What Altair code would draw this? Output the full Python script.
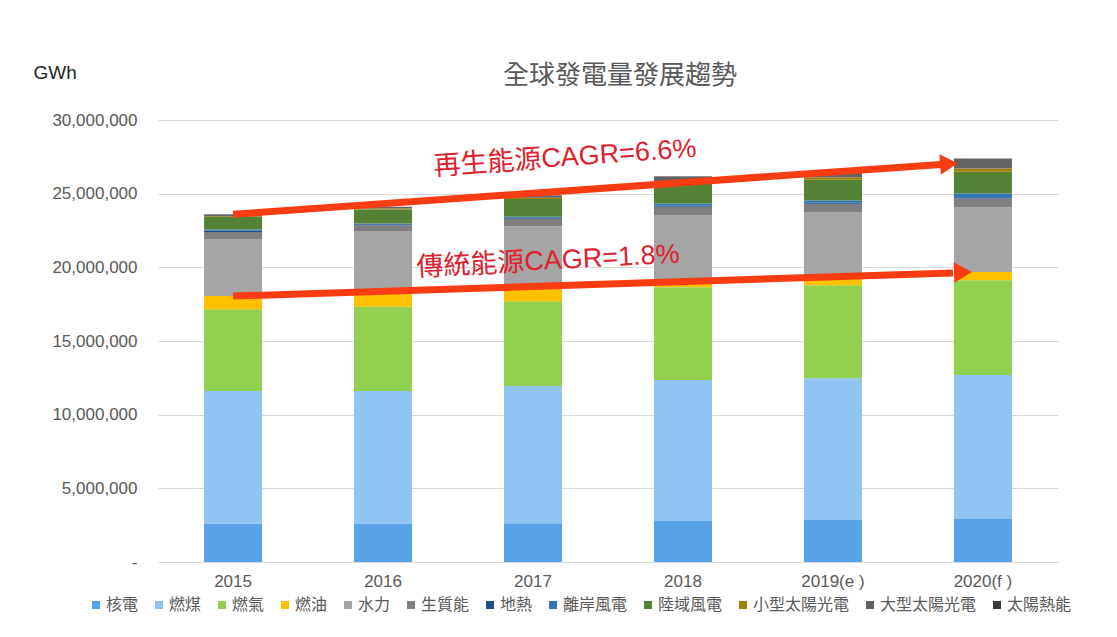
import altair as alt
import pandas as pd

years = ["2015", "2016", "2017", "2018", "2019(e )", "2020(f )"]
sources = ["核電", "燃煤", "燃氣", "燃油", "水力", "生質能", "地熱",
           "離岸風電", "陸域風電", "小型太陽光電", "大型太陽光電", "太陽熱能"]
colors = ["#58A2E8", "#8FC4F3", "#92D050", "#FFC000", "#A5A5A5", "#7F7F7F",
          "#1F4E8C", "#2E75B6", "#548235", "#A08000", "#636363", "#3A3A3A"]

nuclear = [2600000, 2620000, 2630000, 2780000, 2850000, 2920000]
coal = [9000000, 8980000, 9310000, 9570000, 9630000, 9770000]
gas = [5550000, 5730000, 5760000, 6300000, 6310000, 6440000]
oil = [900000, 920000, 950000, 550000, 550000, 560000]
hydro = [3880000, 4210000, 4140000, 4350000, 4400000, 4370000]
biomass = [470000, 400000, 500000, 560000, 570000, 610000]
geothermal = [80000, 70000, 80000, 80000, 80000, 90000]
offshore_wind = [80000, 50000, 70000, 140000, 150000, 250000]
onshore_wind = [850000, 950000, 1200000, 1400000, 1400000, 1470000]
small_pv = [50000, 60000, 80000, 120000, 150000, 230000]
large_pv = [120000, 120000, 170000, 320000, 350000, 660000]
solar_thermal = [20000, 10000, 10000, 20000, 20000, 20000]

series = [nuclear, coal, gas, oil, hydro, biomass, geothermal,
          offshore_wind, onshore_wind, small_pv, large_pv, solar_thermal]

# annotation arrows (trend lines drawn from 2015 to 2020)
arrow_labels = ["再生能源CAGR=6.6%", "傳統能源CAGR=1.8%"]
arrow_start = [23600000, 18050000]
arrow_end = [27190000, 19720000]
label_value = [27270000, 20350000]

rows = []
for si, (name, vals) in enumerate(zip(sources, series)):
    for yr, v in zip(years, vals):
        rows.append({"year": yr, "source": name, "value": v, "order": si})
df = pd.DataFrame(rows)

GRAY = "#595959"
NUM_FONT = "Liberation Sans"
CJK_FONT = "Noto Sans CJK TC"
NBSP = "\u00a0"

x_enc = alt.X(
    "year:N", sort=years,
    scale=alt.Scale(paddingInner=0.613, paddingOuter=0.307),
    axis=alt.Axis(title=None, labelAngle=0, ticks=False, domainColor="#D9D9D9",
                  labelColor=GRAY, labelFontSize=17, labelPadding=11,
                  labelFont=NUM_FONT, grid=False),
)

bars = alt.Chart(df).mark_bar().encode(
    x=x_enc,
    y=alt.Y(
        "value:Q", stack="zero",
        scale=alt.Scale(domain=[0, 30000000]),
        axis=alt.Axis(
            values=[0, 5000000, 10000000, 15000000, 20000000, 25000000, 30000000],
            labelExpr="datum.value == 0 ? '-" + NBSP * 4 + "' : format(datum.value, ',')",
            ticks=False, domain=False, gridColor="#D9D9D9", labelColor=GRAY,
            labelFontSize=17, labelFont=NUM_FONT, labelPadding=21,
            title="GWh", titleAngle=0, titleX=-125, titleY=-48, titleAlign="left",
            titleBaseline="middle", titleFontSize=19, titleColor="#262626",
            titleFont=NUM_FONT, titleFontWeight="normal",
        ),
    ),
    color=alt.Color(
        "source:N",
        scale=alt.Scale(domain=sources, range=colors),
        legend=alt.Legend(
            title=None, orient="none", legendX=-70, legendY=477,
            direction="horizontal", columns=12, columnPadding=12,
            gridAlign="none",
            symbolType="square", symbolSize=64, symbolStrokeWidth=0,
            symbolOffset=0, labelOffset=2,
            labelFont=CJK_FONT, labelFontSize=16, labelColor=GRAY,
        ),
    ),
    order=alt.Order("order:Q", sort="ascending"),
)

layers = [bars]
arrow_red = "#F93C12"
text_red = "#E0202C"
x_off = [-42, -30]
y_off = [3.0, 1.5]
head_x = [-34, -20]
head_y = [2.4, 0.8]
angles = [356, 358]
text_dx = [32, 15]
text_angles = [356, 357]

for i in range(2):
    adf = pd.DataFrame({
        "start_year": [years[0]], "end_year": [years[-1]], "text_year": [years[2]],
        "start": [arrow_start[i]], "end": [arrow_end[i]],
        "label_value": [label_value[i]], "label": [arrow_labels[i]],
    })
    rule = alt.Chart(adf).mark_rule(
        color=arrow_red, strokeWidth=7, x2Offset=x_off[i], y2Offset=y_off[i]
    ).encode(
        x=alt.X("start_year:N", sort=years),
        x2=alt.X2("end_year:N"),
        y=alt.Y("start:Q"),
        y2=alt.Y2("end:Q"),
    )
    head = alt.Chart(adf).mark_point(
        shape="triangle-right", filled=True, size=420, angle=angles[i],
        color=arrow_red, opacity=1, xOffset=head_x[i], yOffset=head_y[i]
    ).encode(
        x=alt.X("end_year:N", sort=years),
        y=alt.Y("end:Q"),
    )
    txt = alt.Chart(adf).mark_text(
        angle=text_angles[i], fontSize=27, color=text_red,
        font="Liberation Sans, Noto Sans CJK TC", dx=text_dx[i],
        align="center", baseline="middle"
    ).encode(
        x=alt.X("text_year:N", sort=years),
        y=alt.Y("label_value:Q"),
        text="label:N",
    )
    layers += [rule, head, txt]

chart = alt.layer(*layers).properties(
    width=900, height=442,
    title=alt.Title("全球發電量發展趨勢", fontSize=26, color=GRAY, font=CJK_FONT,
                    fontWeight="normal", anchor="middle", offset=-26, dx=12),
    autosize=alt.AutoSizeParams(type="none"),
    padding={"left": 150, "top": 112, "right": 50, "bottom": 60},
).configure_view(stroke=None)

chart.save("out.html", embed_options={"renderer": "svg", "actions": False})
